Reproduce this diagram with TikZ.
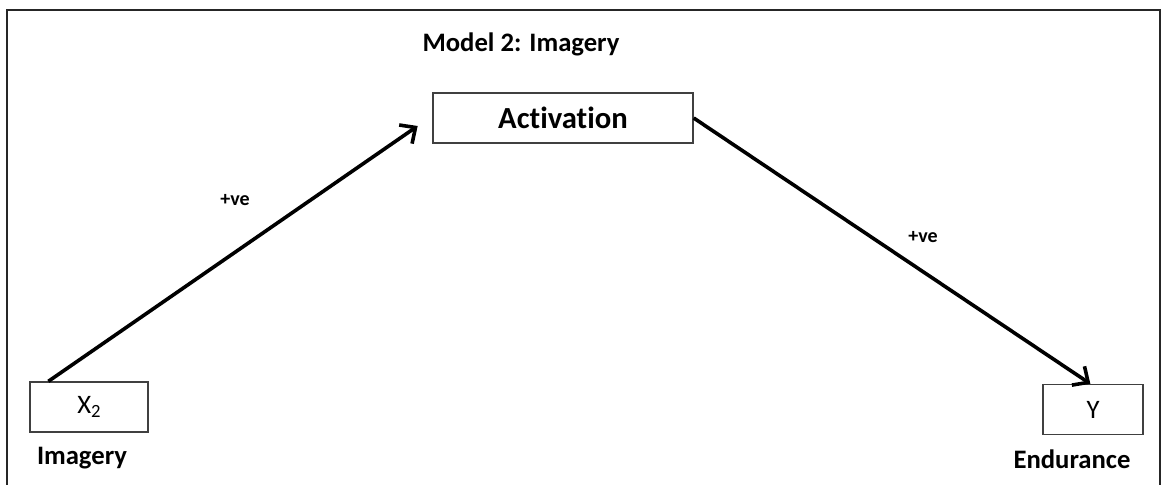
\documentclass[tikz,border=0pt]{standalone}
\usepackage{fontspec}
\setmainfont[Ligatures=NoCommon]{Carlito}
\usetikzlibrary{arrows.meta,positioning,calc}

\begin{document}
\begin{tikzpicture}[x=0.75pt,y=-0.75pt,
    varbox/.style={draw=black!75,line width=1pt,minimum height=37.5pt,inner sep=0pt},
    title/.style={font=\bfseries\fontsize{20}{24}\selectfont},
    caption/.style={font=\bfseries\fontsize{20}{24}\selectfont},
    sign/.style={font=\bfseries\fontsize{15}{18}\selectfont},
    path/.style={line width=2.7pt,-{Straight Barb[length=9pt,width=17pt,line width=2.7pt]}}]
\useasboundingbox (0,0) rectangle (1163,485);
% frame
\draw[line width=1.1pt,black!85] (7,490) -- (7,10) -- (1160,10) -- (1160,490);

\node[title] (head) at (521,44) {Model 2: Imagery};

\node[varbox,minimum width=195pt,font=\bfseries\fontsize{23}{27}\selectfont] (act) at (563,118) {Activation};
\node[varbox,minimum width=88.5pt,font=\fontsize{20}{24}\selectfont] (ximg) at (89,407) {X\raisebox{-0.35ex}{\fontsize{14}{16}\selectfont 2}};
\node[varbox,minimum width=75pt,font=\fontsize{20}{24}\selectfont] (yend) at (1093,409.5) {Y};

\node[caption] (limg) at (82,458) {Imagery};
\node[caption] (lend) at (1072,459) {Endurance};

% paths
\draw[path] ([xshift=14.25pt]ximg.north west) -- ([xshift=-11pt,yshift=-6pt]act.west);
\draw[path] (act.east) -- ([xshift=-2pt]yend.north);

\node[sign] (s1) at (235,200) {+ve};
\node[sign] (s2) at (923,237) {+ve};
\end{tikzpicture}
\end{document}
